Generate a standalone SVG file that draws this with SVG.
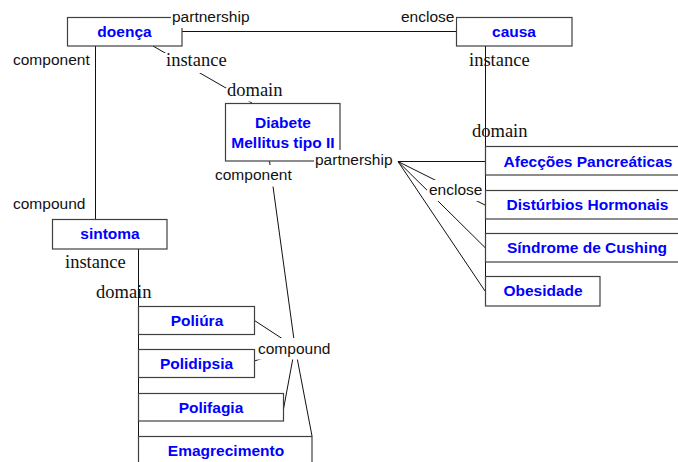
<svg xmlns="http://www.w3.org/2000/svg" width="678" height="462" viewBox="0 0 678 462">
  <style>
    .box { fill: #ffffff; stroke: #404040; stroke-width: 1.2; }
    .name { font-family: "Liberation Sans", Arial, sans-serif; font-weight: bold; font-size: 15.5px; fill: #0000ff; text-anchor: middle; }
    .lbl { font-family: "Liberation Sans", Arial, sans-serif; font-size: 15.5px; fill: #111111; }
    .lbs { font-family: "Liberation Serif", "Times New Roman", serif; font-size: 18.5px; fill: #111111; }
    .edge { stroke: #111111; stroke-width: 1; fill: none; }
    .mask { fill: #ffffff; }
  </style>
  <rect width="678" height="462" fill="#ffffff"/>

  <!-- connectors -->
  <g id="connectors">
    <line class="edge" x1="182" y1="31.5" x2="456" y2="31.5" stroke-width="1.6"/>
    <line class="edge" x1="95.5" y1="46" x2="95.5" y2="219"/>
    <line class="edge" x1="153" y1="46" x2="252" y2="103"/>
    <line class="edge" x1="485.5" y1="46" x2="485.5" y2="306"/>
    <line class="edge" x1="138.5" y1="249" x2="138.5" y2="462"/>
    <line class="edge" x1="398" y1="161.5" x2="485" y2="161.5"/>
    <line class="edge" x1="398" y1="161.5" x2="485" y2="205"/>
    <line class="edge" x1="398" y1="161.5" x2="485" y2="247.5"/>
    <line class="edge" x1="398" y1="161.5" x2="485" y2="291"/>
    <line class="edge" x1="269.5" y1="161" x2="295" y2="347"/>
    <line class="edge" x1="254.5" y1="320.5" x2="295" y2="347"/>
    <line class="edge" x1="254.5" y1="361" x2="295" y2="347"/>
    <line class="edge" x1="283.5" y1="409" x2="295" y2="347"/>
    <line class="edge" x1="295" y1="347" x2="312" y2="436"/>
  </g>

  <!-- nodes -->
  <g id="doenca">
    <rect class="box" x="67.5" y="17.5" width="114.5" height="28.5"/>
    <text class="name" x="124.5" y="36.5">doença</text>
  </g>
  <g id="causa">
    <rect class="box" x="456.5" y="17.5" width="115.5" height="28.5"/>
    <text class="name" x="514" y="36.5">causa</text>
  </g>
  <g id="diabete">
    <rect class="box" x="225.5" y="103.5" width="114.5" height="57.5"/>
    <text class="name" x="283" y="128">Diabete</text>
    <text class="name" x="283" y="148">Mellitus tipo II</text>
  </g>
  <g id="sintoma">
    <rect class="box" x="52.5" y="219.5" width="114.5" height="29.5"/>
    <text class="name" x="110" y="238.5">sintoma</text>
  </g>
  <g id="afeccoes">
    <rect class="box" x="485.5" y="146.5" width="210" height="28.5"/>
    <text class="name" x="588" y="166.5">Afecções Pancreáticas</text>
  </g>
  <g id="disturbios">
    <rect class="box" x="485.5" y="190.5" width="210" height="28.5"/>
    <text class="name" x="587.5" y="209.5">Distúrbios Hormonais</text>
  </g>
  <g id="sindrome">
    <rect class="box" x="485.5" y="233.5" width="210" height="28.5"/>
    <text class="name" x="587" y="253">Síndrome de Cushing</text>
  </g>
  <g id="obesidade">
    <rect class="box" x="485.5" y="276.5" width="114.5" height="29.5"/>
    <text class="name" x="543" y="296">Obesidade</text>
  </g>
  <g id="poliura">
    <rect class="box" x="138.5" y="306.5" width="116" height="28"/>
    <text class="name" x="197" y="326">Poliúra</text>
  </g>
  <g id="polidipsia">
    <rect class="box" x="138.5" y="349.5" width="116" height="28"/>
    <text class="name" x="196.5" y="368.5">Polidipsia</text>
  </g>
  <g id="polifagia">
    <rect class="box" x="138.5" y="393.5" width="145" height="27.5"/>
    <text class="name" x="211" y="412.5">Polifagia</text>
  </g>
  <g id="emagrecimento">
    <rect class="box" x="138.5" y="436.5" width="173.5" height="40"/>
    <text class="name" x="226" y="455.5">Emagrecimento</text>
  </g>

  <!-- connector labels -->
  <g id="labels">
    <rect class="mask" x="171" y="9" width="80" height="19"/>
    <text class="lbl" x="172" y="22">partnership</text>
    <rect class="mask" x="400" y="9" width="55.5" height="19"/>
    <text class="lbl" x="401" y="22">enclose</text>
    <text class="lbl" x="13" y="65">component</text>
    <rect class="mask" x="164" y="53" width="65" height="20"/>
    <text class="lbs" x="166" y="66">instance</text>
    <rect class="mask" x="226" y="88" width="58" height="13.5"/>
    <text class="lbs" x="227" y="95.5">domain</text>
    <text class="lbs" x="469" y="66">instance</text>
    <text class="lbs" x="472" y="137">domain</text>
    <rect class="mask" x="314" y="150" width="83" height="19"/>
    <text class="lbl" x="315" y="165">partnership</text>
    <rect class="mask" x="213" y="165" width="83" height="21.5"/>
    <text class="lbl" x="215" y="180">component</text>
    <rect class="mask" x="427" y="180" width="57" height="21"/>
    <text class="lbl" x="429" y="195">enclose</text>
    <text class="lbl" x="13" y="209">compound</text>
    <text class="lbs" x="65" y="268">instance</text>
    <text class="lbs" x="96" y="297.5">domain</text>
    <rect class="mask" x="257" y="338" width="76" height="21.5"/>
    <text class="lbl" x="258" y="354">compound</text>
  </g>
</svg>
